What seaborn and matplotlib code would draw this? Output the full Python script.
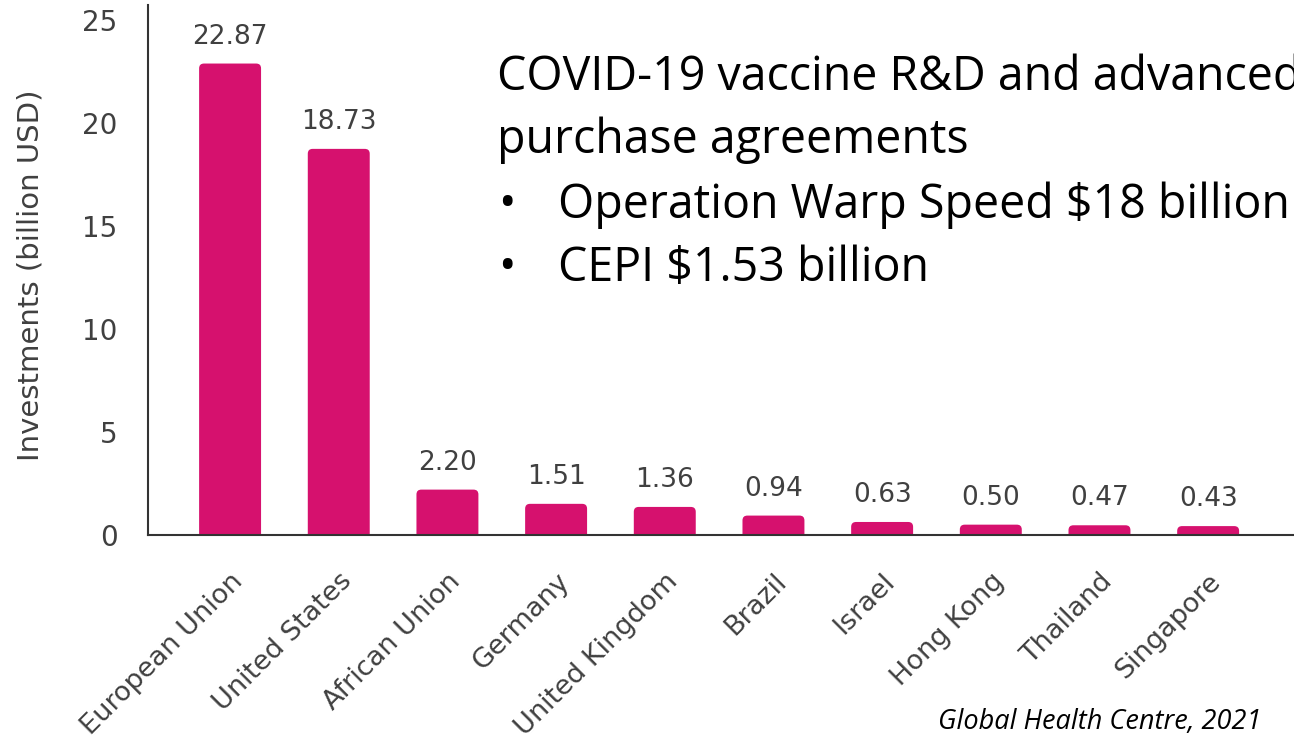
import pandas as pd
import matplotlib.pyplot as plt
import seaborn as sns
from matplotlib.patches import FancyBboxPatch

# values
countries = ['European Union', 'United States', 'African Union', 'Germany',
             'United Kingdom', 'Brazil', 'Israel', 'Hong Kong', 'Thailand', 'Singapore']
investments = [22.87, 18.73, 2.20, 1.51, 1.36, 0.94, 0.63, 0.50, 0.47, 0.43]
value_labels = ['22.87', '18.73', '2.20', '1.51', '1.36', '0.94', '0.63', '0.50', '0.47', '0.43']
y_ticks = [0, 5, 10, 15, 20, 25]

title_lines = ['COVID-19 vaccine R&D and advanced', 'purchase agreements']
bullet_items = ['Operation Warp Speed $18 billion', 'CEPI $1.53 billion']
source_note = 'Global Health Centre, 2021'

df = pd.DataFrame({'country': countries, 'investment': investments})

sns.set_style('white')
plt.rcParams['font.family'] = ['DejaVu Sans']

bar_color = '#D6116E'
text_color = '#404040'
slide_font = ['Open Sans', 'DejaVu Sans']

fig = plt.figure(figsize=(12.94, 7.43), dpi=100)
ax = fig.add_axes([0.1144, 0.28, 0.8856, 0.713])

sns.barplot(data=df, x='country', y='investment', color=bar_color,
            saturation=1, width=0.57, ax=ax)

ax.set_xlim(-0.755, 9.79)
ax.set_ylim(0, 25.7)

# give the bars slightly rounded tops, like the original
bars = list(ax.patches)
for p in bars:
    x0, w, h = p.get_x(), p.get_width(), p.get_height()
    rounded = FancyBboxPatch((x0, -1), w, h + 1,
                             boxstyle='round,pad=0,rounding_size=0.045',
                             mutation_aspect=5.2, facecolor=bar_color,
                             edgecolor='none', clip_on=True)
    ax.add_patch(rounded)
    p.remove()

ax.set_yticks(y_ticks)
ax.set_xlabel('')
ax.set_ylabel('Investments (billion USD)', fontsize=21, color=text_color)
ax.yaxis.set_label_coords(-0.09, 0.49)

ax.tick_params(axis='y', length=0, pad=22, labelsize=20, labelcolor=text_color)
ax.tick_params(axis='x', length=0, pad=24, labelsize=19.5, labelcolor=text_color)
for lab in ax.get_xticklabels():
    lab.set_rotation(45)
    lab.set_ha('right')
    lab.set_rotation_mode('anchor')

for side in ['top', 'right']:
    ax.spines[side].set_visible(False)
for side in ['left', 'bottom']:
    ax.spines[side].set_color('#333333')
    ax.spines[side].set_linewidth(1.5)
    ax.spines[side].set_zorder(5)

for i, (v, txt) in enumerate(zip(investments, value_labels)):
    ax.annotate(txt, (i, v), xytext=(0, 10), textcoords='offset points',
                ha='center', va='bottom', fontsize=19, color=text_color)

# annotation block at the top right (clipped at the figure edge like the slide)
fig.text(497 / 1294, 1 - 90 / 743, title_lines[0], fontsize=33.5, color='black',
         family=slide_font, va='baseline')
fig.text(497 / 1294, 1 - 153 / 743, title_lines[1], fontsize=33.5, color='black',
         family=slide_font, va='baseline')
for k, item in enumerate(bullet_items):
    yb = 1 - (218 + 63 * k) / 743
    fig.text(498 / 1294, yb, '\u2022', fontsize=33.5, color='black',
             family=slide_font, va='baseline')
    fig.text(558 / 1294, yb, item, fontsize=33.5, color='black',
             family=slide_font, va='baseline')

fig.text(1262 / 1294, 1 - 722 / 743, source_note, fontsize=19.5, style='italic',
         color='black', ha='right', va='center', family=slide_font)

plt.savefig('out.png', dpi=100)
